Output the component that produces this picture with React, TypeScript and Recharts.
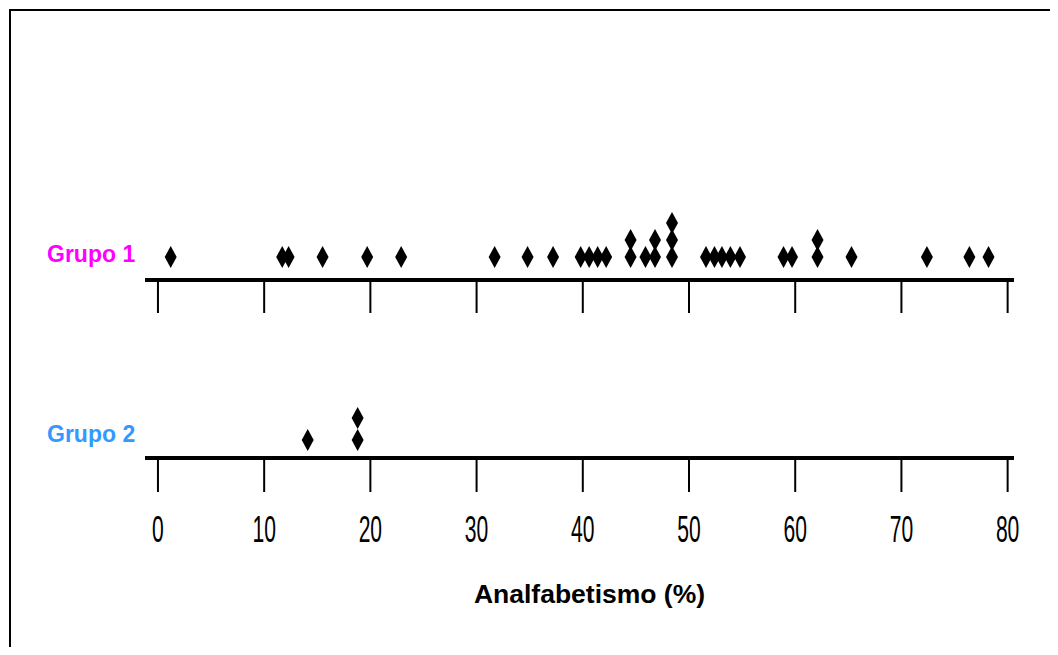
import React from 'react';
import { ScatterChart, Scatter, XAxis, YAxis } from 'recharts';

const group1Values = [1.2, 11.7, 12.3, 15.5, 19.7, 22.9, 31.7, 34.8, 37.2, 39.8, 40.6, 41.4, 42.2, 44.5, 44.5, 45.9, 46.8, 46.8, 48.4, 48.4, 48.4, 51.6, 52.4, 53.1, 53.9, 54.8, 58.9, 59.7, 62.1, 62.1, 65.3, 72.4, 76.4, 78.2];
const group2Values = [14.1, 18.8, 18.8];
const xTicks = [0, 10, 20, 30, 40, 50, 60, 70, 80];
const groupLabels = ['Grupo 1', 'Grupo 2'];
const groupColors = ['#FF00FF', '#3399FF'];
const axisTitle = 'Analfabetismo (%)';

const X_DOMAIN: [number, number] = [-1.22, 80.6];
const FONT = '"Liberation Sans", Arial, sans-serif';

function stack(values: number[]) {
  const seen: Record<string, number> = {};
  return values.map((v) => {
    const k = String(v);
    seen[k] = (seen[k] || 0) + 1;
    return { x: v, y: seen[k] };
  });
}

const group1Data = stack(group1Values);
const group2Data = stack(group2Values);

const Diamond = (props: any) => {
  const { cx, cy } = props;
  if (cx == null || cy == null) return null;
  return (
    <polygon
      points={`${cx},${cy - 11} ${cx + 6},${cy} ${cx},${cy + 11} ${cx - 6},${cy}`}
      fill="#000"
    />
  );
};

const makeGroupTick = (label: string, color: string, dy: number) => (props: any) => (
  <text
    x={39}
    y={props.y + dy}
    fill={color}
    fontSize={23}
    fontWeight="bold"
    fontFamily={FONT}
    textAnchor="start"
  >
    {label}
  </text>
);

const EmptyTick = () => <g />;

const NumberTick = (props: any) => {
  const { x, y, payload } = props;
  return (
    <g transform={`translate(${x},${y + 50}) scale(0.57,1)`}>
      <text x={0} y={0} textAnchor="middle" fontSize={37} fontFamily={FONT} fill="#000">
        {payload.value}
      </text>
    </g>
  );
};

const TitleLabel = (props: any) => {
  const vb = props.viewBox || {};
  return (
    <text
      x={vb.x + vb.width / 2 + 10}
      y={vb.y + 145}
      textAnchor="middle"
      fontSize={26.5}
      fontWeight="bold"
      fontFamily={FONT}
      fill="#000"
    >
      {axisTitle}
    </text>
  );
};

export default function App() {
  return (
    <div style={{ position: 'relative', width: 1050, height: 639, overflow: 'hidden' }}>
      <div
        style={{
          position: 'absolute',
          top: 1,
          left: 1,
          width: 1100,
          height: 700,
          borderTop: '2px solid #000',
          borderLeft: '2px solid #000',
          boxSizing: 'border-box',
        }}
      />
      <div style={{ position: 'absolute', top: 0, left: 0 }}>
        <ScatterChart width={1050} height={340} margin={{ top: 198, right: 44, bottom: 28, left: 0 }}>
          <XAxis
            type="number"
            dataKey="x"
            domain={X_DOMAIN}
            ticks={xTicks}
            allowDataOverflow
            height={40}
            tickSize={33}
            tickMargin={0}
            tick={EmptyTick}
            axisLine={{ stroke: '#000', strokeWidth: 4 }}
            tickLine={{ stroke: '#000', strokeWidth: 2 }}
          />
          <YAxis
            type="number"
            dataKey="y"
            domain={[-0.353, 4]}
            allowDataOverflow
            ticks={[1]}
            interval={0}
            width={137}
            axisLine={false}
            tickLine={false}
            tick={makeGroupTick(groupLabels[0], groupColors[0], 5)}
          />
          <Scatter data={group1Data} shape={Diamond} isAnimationActive={false} />
        </ScatterChart>
      </div>
      <div style={{ position: 'absolute', top: 340, left: 0 }}>
        <ScatterChart width={1050} height={290} margin={{ top: 48, right: 44, bottom: 20, left: 0 }}>
          <XAxis
            type="number"
            dataKey="x"
            domain={X_DOMAIN}
            ticks={xTicks}
            allowDataOverflow
            height={160}
            tickSize={34}
            tickMargin={0}
            tick={NumberTick}
            axisLine={{ stroke: '#000', strokeWidth: 4 }}
            tickLine={{ stroke: '#000', strokeWidth: 2 }}
            label={<TitleLabel />}
          />
          <YAxis
            type="number"
            dataKey="y"
            domain={[0.1818, 3]}
            allowDataOverflow
            ticks={[1]}
            interval={0}
            width={137}
            axisLine={false}
            tickLine={false}
            tick={makeGroupTick(groupLabels[1], groupColors[1], 2)}
          />
          <Scatter data={group2Data} shape={Diamond} isAnimationActive={false} />
        </ScatterChart>
      </div>
    </div>
  );
}
